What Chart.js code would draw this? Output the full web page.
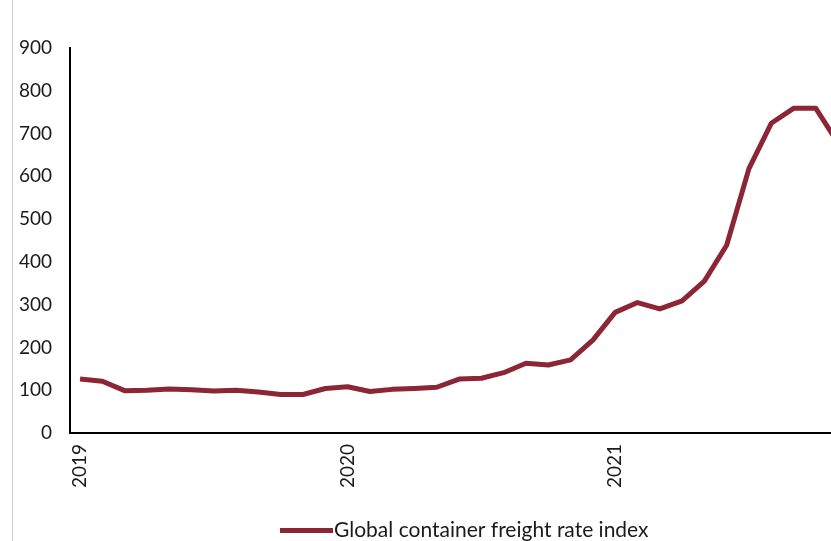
<!DOCTYPE html>
<html>
<head>
<meta charset="utf-8">
<script src="https://cdn.jsdelivr.net/npm/chart.js@4"></script>
<style>
	html, body { margin: 0; padding: 0; background: #fff; }
	#wrap { position: relative; width: 831px; height: 541px; }
	#edge { position: absolute; left: 12px; top: 0; width: 1px; height: 541px; background: #cfcfcf; }
</style>
</head>
<body>
<div id="wrap">
	<div id="edge"></div>
	<canvas id="canvas" width="831" height="541"></canvas>
</div>
<script>
// monthly index, Jan 2019 .. Nov 2021
var months = [
	'2019-01','2019-02','2019-03','2019-04','2019-05','2019-06','2019-07','2019-08','2019-09','2019-10','2019-11','2019-12',
	'2020-01','2020-02','2020-03','2020-04','2020-05','2020-06','2020-07','2020-08','2020-09','2020-10','2020-11','2020-12',
	'2021-01','2021-02','2021-03','2021-04','2021-05','2021-06','2021-07','2021-08','2021-09','2021-10','2021-11'
];
var freightIndex = [
	126, 121, 99, 100, 103, 101, 98, 100, 96, 90, 90, 104,
	108, 97, 102, 104, 107, 126, 128, 141, 163, 159, 171, 217,
	282, 305, 290, 309, 355, 439, 618, 724, 759, 759, 677
];
var yearTicks = [0, 12, 24];
var yearLabels = ['2019', '2020', '2021'];
var seriesName = 'Global container freight rate index';

var lineColor = '#8c2535';
var fontFamily = 'Lato, "Open Sans", sans-serif';

function buildPoints(){
	var pts = [];
	for(var i = 0; i < freightIndex.length; i++){
		pts.push({x: i, y: freightIndex[i]});
	}
	return pts;
}

// legend drawn by hand so it can sit off-centre under the plot
var legendPlugin = {
	id: 'lineLegend',
	afterDraw: function(chart){
		var ctx = chart.ctx;
		var ds = chart.data.datasets[0];
		ctx.save();
		ctx.fillStyle = ds.borderColor;
		ctx.fillRect(280, 528, 53, 5);
		ctx.font = '21px ' + fontFamily;
		ctx.fillStyle = '#1a1a1a';
		ctx.textBaseline = 'middle';
		ctx.textAlign = 'left';
		ctx.fillText(ds.label, 334, 530);
		ctx.restore();
	}
};

var ctx = document.getElementById('canvas').getContext('2d');
window.freightChart = new Chart(ctx, {
	type: 'line',
	data: {
		datasets: [{
			label: seriesName,
			data: buildPoints(),
			borderColor: lineColor,
			backgroundColor: lineColor,
			borderWidth: 5,
			pointRadius: 0,
			tension: 0,
			borderJoinStyle: 'round',
			clip: 0
		}]
	},
	options: {
		responsive: false,
		animation: false,
		layout: { padding: { top: 48, right: 0, bottom: 0, left: 0 } },
		plugins: {
			legend: { display: false },
			tooltip: { enabled: false }
		},
		scales: {
			x: {
				type: 'linear',
				min: -0.45,
				max: 33.68,
				grid: { display: false, drawTicks: false },
				border: { display: true, color: '#000', width: 2 },
				afterBuildTicks: function(scale){
					scale.ticks = yearTicks.map(function(v){ return {value: v}; });
				},
				afterFit: function(scale){ scale.height = 108; },
				ticks: {
					autoSkip: false,
					minRotation: 90,
					maxRotation: 90,
					padding: 11,
					color: '#1a1a1a',
					font: { family: fontFamily, size: 19 },
					callback: function(value){
						var k = yearTicks.indexOf(value);
						return k < 0 ? '' : yearLabels[k];
					}
				}
			},
			y: {
				min: 0,
				max: 900,
				grid: { display: false, drawTicks: false },
				border: { display: true, color: '#000', width: 2 },
				afterFit: function(scale){ scale.width = 70; },
				ticks: {
					stepSize: 100,
					padding: 18,
					color: '#1a1a1a',
					font: { family: fontFamily, size: 19 }
				}
			}
		}
	},
	plugins: [legendPlugin]
});
</script>
</body>
</html>
